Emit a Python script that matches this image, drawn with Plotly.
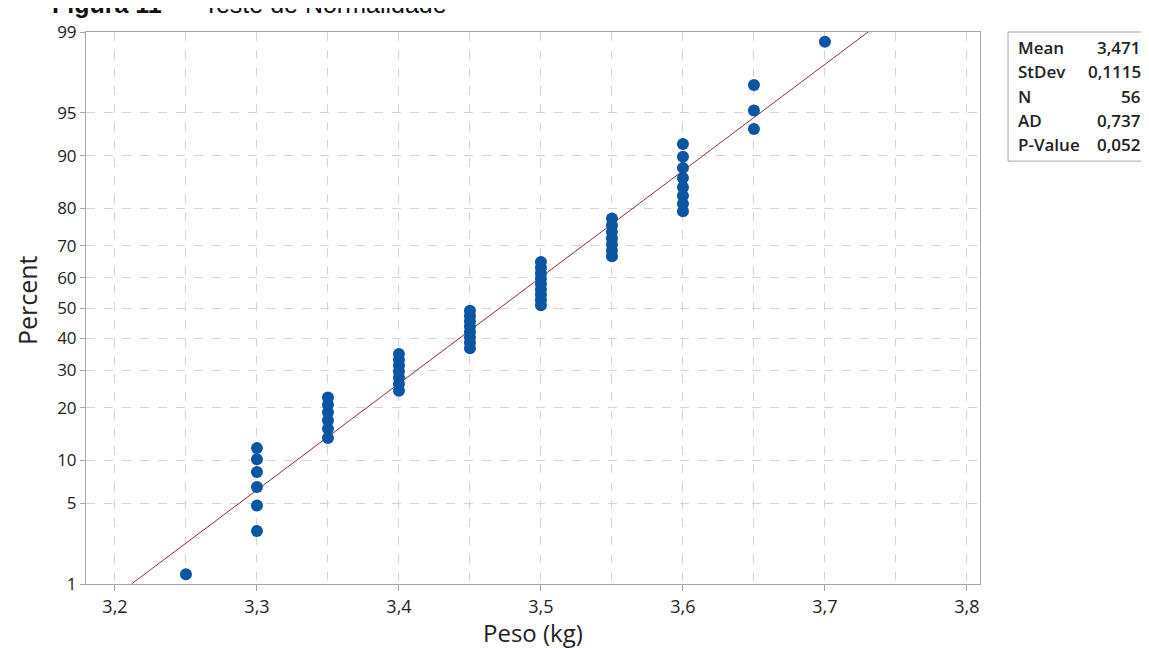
import plotly.graph_objects as go
from statistics import NormalDist

# ---- data ----
peso = [
    3.25,
    3.30, 3.30, 3.30, 3.30, 3.30, 3.30,
    3.35, 3.35, 3.35, 3.35, 3.35, 3.35,
    3.40, 3.40, 3.40, 3.40, 3.40, 3.40, 3.40,
    3.45, 3.45, 3.45, 3.45, 3.45, 3.45, 3.45, 3.45,
    3.50, 3.50, 3.50, 3.50, 3.50, 3.50, 3.50, 3.50, 3.50,
    3.55, 3.55, 3.55, 3.55, 3.55, 3.55, 3.55,
    3.60, 3.60, 3.60, 3.60, 3.60, 3.60, 3.60, 3.60,
    3.65, 3.65, 3.65,
    3.70,
]
percent = [
    1.24,
    3.01, 4.79, 6.56, 8.33, 10.11, 11.88,
    13.65, 15.43, 17.20, 18.97, 20.74, 22.52,
    24.29, 26.06, 27.84, 29.61, 31.38, 33.16, 34.93,
    36.70, 38.48, 40.25, 42.02, 43.79, 45.57, 47.34, 49.11,
    50.89, 52.66, 54.43, 56.21, 57.98, 59.75, 61.52, 63.30, 65.07,
    66.84, 68.62, 70.39, 72.16, 73.94, 75.71, 77.48,
    79.26, 81.03, 82.80, 84.57, 86.35, 88.12, 89.89, 91.67,
    93.44, 95.21, 96.99,
    98.76,
]
mean_val = 3.471
stdev_val = 0.1115
stat_labels = ["Mean", "StDev", "N", "AD", "P-Value"]
stat_values = ["3,471", "0,1115", "56", "0,737", "0,052"]
y_ticks_pct = [1, 5, 10, 20, 30, 40, 50, 60, 70, 80, 90, 95, 99]
x_ticks = [3.2, 3.3, 3.4, 3.5, 3.6, 3.7, 3.8]

nd = NormalDist()
def z(p):
    return nd.inv_cdf(p / 100.0)

y_pts = [z(p) for p in percent]
z_lo, z_hi = z(1), z(99)

# ---- layout geometry: page pixels; the page body adds an 8px margin ----
OFF = 8
W, H = 1149 - OFF, 648 - OFF
PL, PR, PT, PB = 86, 980, 24, 584          # plot box in page pixels
L, T = PL - OFF, PT - OFF
R, B = W - (PR - OFF), H - (PB - OFF)
pw, ph = W - L - R, H - T - B
def px(x):
    return (x - OFF - L) / pw
def py(y):
    return (H - B - (y - OFF)) / ph

fig = go.Figure()

# fitted line
fig.add_trace(go.Scatter(
    x=[mean_val + z_lo * stdev_val, mean_val + z_hi * stdev_val],
    y=[z_lo, z_hi],
    mode="lines",
    line=dict(color="#8b2e35", width=1),
    hoverinfo="skip",
    showlegend=False,
))

# points
fig.add_trace(go.Scatter(
    x=peso, y=y_pts, mode="markers",
    marker=dict(color="#0b55a3", size=12, line=dict(width=0)),
    showlegend=False,
))

grid_col = "#d4d4d4"
axis_col = "#a6a6a6"
font_fam = "Open Sans, Noto Sans, DejaVu Sans, sans-serif"

fig.update_layout(
    width=W, height=H,
    margin=dict(l=L, r=R, t=T, b=B),
    paper_bgcolor="white", plot_bgcolor="white",
    separators=",.",
    font=dict(family=font_fam, color="#222222"),
    showlegend=False,
)

fig.update_xaxes(
    range=[3.1796, 3.8092],
    tickvals=x_ticks, tickformat=".1f",
    tickfont=dict(size=18, family=font_fam, color="#222222"),
    ticks="outside", ticklen=6, tickcolor=axis_col,
    showline=True, linecolor=axis_col, linewidth=1, mirror=True,
    showgrid=True, gridcolor=grid_col, griddash="dash", gridwidth=1,
    minor=dict(dtick=0.05, tick0=3.2, showgrid=True, gridcolor=grid_col,
               griddash="dash", gridwidth=1, ticks=""),
    zeroline=False,
)
fig.update_yaxes(
    range=[z_lo, z_hi],
    tickvals=[z(p) for p in y_ticks_pct],
    ticktext=[str(p) for p in y_ticks_pct],
    tickfont=dict(size=17, family=font_fam, color="#222222"),
    ticks="outside", ticklen=5, tickcolor=axis_col,
    showline=True, linecolor=axis_col, linewidth=1, mirror=True,
    showgrid=True, gridcolor=grid_col, griddash="dash", gridwidth=1,
    zeroline=False,
)

annotations = []
# title (partially cut at top of page)
annotations.append(dict(
    text="<b>Figura 11</b>\u00a0\u00a0–\u00a0\u00a0Teste de Normalidade",
    xref="paper", yref="paper", x=px(50), y=py(12),
    xanchor="left", yanchor="bottom", showarrow=False,
    font=dict(family="Liberation Sans, Arial, sans-serif", size=25, color="#111111"),
))
# axis titles
annotations.append(dict(
    text="Percent", xref="paper", yref="paper", x=px(27), y=py(296),
    xanchor="center", yanchor="middle", textangle=-90, showarrow=False,
    font=dict(family=font_fam, size=25, color="#222222"),
))
annotations.append(dict(
    text="Peso (kg)", xref="paper", yref="paper", x=px(533), y=py(633),
    xanchor="center", yanchor="middle", showarrow=False,
    font=dict(family=font_fam, size=24, color="#222222"),
))
# stats box text
row_y = [40, 64, 89, 114, 138]
for lab, val, ry in zip(stat_labels, stat_values, row_y):
    annotations.append(dict(
        text=lab, xref="paper", yref="paper", x=px(1016), y=py(ry),
        xanchor="left", yanchor="middle", showarrow=False,
        font=dict(family=font_fam, size=17, color="#222222", weight=600),
    ))
    annotations.append(dict(
        text=val, xref="paper", yref="paper", x=px(1143), y=py(ry),
        xanchor="right", yanchor="middle", showarrow=False,
        font=dict(family=font_fam, size=17, color="#222222", weight=600),
    ))
fig.update_layout(annotations=annotations)

fig.add_shape(
    type="rect", xref="paper", yref="paper",
    x0=px(1008), x1=px(1165), y0=py(155), y1=py(24),
    line=dict(color=axis_col, width=1), fillcolor="white", layer="below",
)

fig.write_html("out.html")
